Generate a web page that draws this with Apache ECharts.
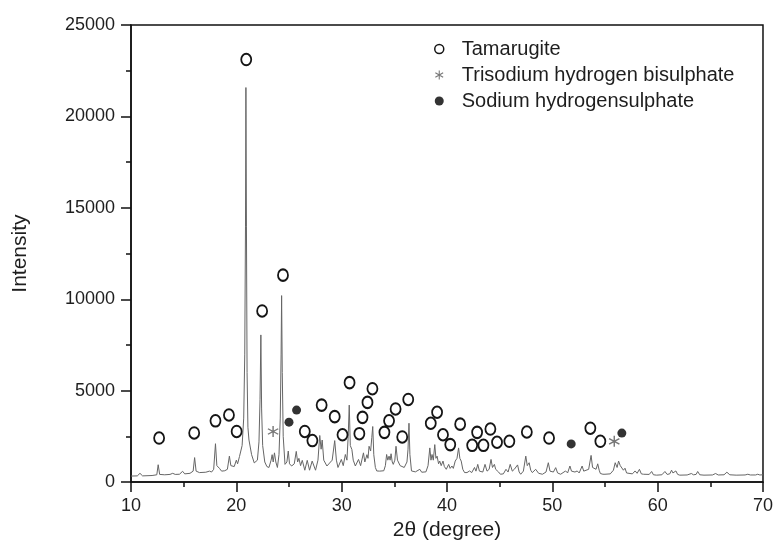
<!DOCTYPE html>
<html>
<head>
<meta charset="utf-8">
<script src="https://cdn.jsdelivr.net/npm/echarts@6/dist/echarts.min.js"></script>
<style>
  html, body { margin: 0; padding: 0; background: #fff; }
  #chart { width: 776px; height: 546px; }
</style>
</head>
<body>
<div id="chart"></div>
<script>
// XRD pattern: 2θ (degree) vs intensity
const patternTheta = [
  10.0, 10.6, 10.85, 11.1, 12.0, 12.45, 12.58, 12.72, 13.2, 13.7, 13.96, 14.2, 14.6, 14.9, 15.1, 15.6, 15.9, 16.04, 16.18, 16.5,
  17.1, 17.45, 17.65, 17.85, 18.02, 18.15, 18.4, 18.6, 18.9, 19.15, 19.34, 19.48, 19.65, 19.8, 20.0, 20.12, 20.3, 20.55, 20.7, 20.8,
  20.87, 20.91, 20.96, 21.02, 21.1, 21.2, 21.3, 21.45, 21.7, 21.85, 22.0, 22.15, 22.25, 22.33, 22.4, 22.5, 22.7, 22.9, 23.1, 23.3,
  23.4, 23.5, 23.62, 23.75, 23.9, 24.05, 24.17, 24.25, 24.3, 24.36, 24.45, 24.62, 24.8, 24.93, 25.05, 25.25, 25.5, 25.69, 25.82, 25.94,
  26.1, 26.26, 26.5, 26.73, 26.95, 27.2, 27.52, 27.75, 27.92, 28.05, 28.15, 28.3, 28.6, 29.1, 29.34, 29.5, 29.65, 29.97, 30.15, 30.35,
  30.5, 30.62, 30.72, 30.82, 30.97, 31.1, 31.3, 31.6, 31.8, 32.07, 32.2, 32.3, 32.4, 32.5, 32.6, 32.75, 32.86, 32.95, 33.05, 33.2,
  33.33, 33.6, 34.0, 34.15, 34.27, 34.38, 34.5, 34.6, 34.69, 34.8, 34.9, 35.05, 35.16, 35.3, 35.44, 35.55, 35.69, 35.94, 36.2, 36.3,
  36.39, 36.48, 36.63, 37.0, 37.42, 37.6, 38.0, 38.2, 38.37, 38.48, 38.58, 38.7, 38.84, 38.95, 39.06, 39.2, 39.31, 39.45, 39.62, 39.75,
  39.93, 40.16, 40.3, 40.47, 40.6, 40.78, 40.95, 41.1, 41.22, 41.35, 41.5, 41.67, 41.9, 42.14, 42.35, 42.61, 42.75, 42.92, 43.08, 43.24,
  43.4, 43.61, 43.8, 44.0, 44.18, 44.32, 44.5, 44.62, 44.75, 44.9, 45.07, 45.35, 45.6, 45.8, 46.0, 46.2, 46.39, 46.55, 46.7, 46.85,
  47.0, 47.25, 47.48, 47.62, 47.8, 47.95, 48.1, 48.42, 48.7, 49.06, 49.4, 49.62, 49.78, 49.94, 50.1, 50.32, 50.5, 50.79, 51.26, 51.45,
  51.67, 51.82, 51.98, 52.15, 52.36, 52.55, 52.83, 52.98, 53.14, 53.45, 53.68, 53.82, 53.99, 54.15, 54.31, 54.45, 54.56, 54.8, 55.0, 55.5,
  55.8, 55.97, 56.15, 56.29, 56.45, 56.6, 56.75, 56.9, 57.05, 57.23, 57.6, 57.86, 58.05, 58.27, 58.45, 58.65, 59.2, 59.43, 59.6, 59.9,
  60.4, 60.69, 60.9, 61.15, 61.32, 61.45, 61.54, 61.63, 61.73, 61.9, 62.1, 62.8, 63.2, 63.4, 63.65, 63.8, 64.0, 64.4, 65.2, 65.5,
  65.75, 66.3, 66.57, 66.85, 67.45, 68.3, 68.56, 68.8, 69.3, 69.5, 69.7, 70.0
];
const patternIntensity = [
  330, 340, 480, 340, 360, 400, 950, 420, 400, 420, 480, 420, 430, 590, 450, 480, 600, 1340, 600, 520,
  540, 600, 550, 700, 2100, 900, 750, 600, 620, 700, 1420, 900, 1000, 850, 1200, 1000, 1400, 2000, 3500, 7000,
  14000, 21580, 14000, 6000, 3000, 2300, 2300, 1500, 1050, 970, 1200, 2200, 4500, 8050, 4000, 2000, 1100, 850, 800, 1200,
  1500, 1100, 1600, 1100, 800, 1500, 3500, 7000, 10200, 6000, 2500, 970, 1100, 1700, 1000, 880, 1000, 1680, 1100, 1300,
  900, 1190, 650, 1190, 650, 1150, 650, 1200, 2550, 1800, 2300, 1200, 880, 1200, 2270, 1200, 800, 1240, 900, 1510,
  1200, 2500, 4210, 2000, 1780, 1200, 880, 1240, 900, 1600, 1100, 1070, 1500, 1300, 1960, 1700, 2430, 3040, 1500, 800,
  610, 600, 620, 900, 1510, 1200, 1420, 1200, 1550, 1100, 970, 1200, 1960, 1200, 1150, 900, 970, 800, 1100, 1800,
  3220, 1500, 610, 560, 700, 540, 560, 900, 1870, 1200, 1510, 1200, 2050, 1300, 1420, 1000, 1150, 900, 1150, 850,
  700, 970, 750, 880, 750, 1150, 1300, 1870, 1300, 1150, 700, 520, 520, 610, 520, 800, 600, 970, 600, 610,
  550, 970, 600, 700, 1240, 800, 970, 700, 790, 550, 430, 450, 700, 550, 970, 600, 700, 600, 940, 550,
  430, 600, 1420, 900, 1060, 650, 520, 700, 480, 430, 550, 1060, 600, 700, 550, 790, 500, 430, 610, 500,
  880, 600, 700, 550, 610, 500, 880, 600, 610, 700, 1460, 800, 790, 700, 1000, 650, 470, 430, 430, 450,
  650, 1060, 800, 1150, 900, 1000, 650, 760, 500, 430, 450, 610, 480, 700, 450, 430, 420, 580, 400, 380,
  400, 580, 420, 450, 650, 500, 580, 480, 610, 420, 380, 390, 470, 400, 420, 580, 400, 380, 390, 470,
  390, 400, 540, 400, 380, 390, 430, 390, 390, 430, 390, 400
];

// Phase markers placed above the assigned reflections
const tamarugite = [
  [12.67, 2410], [16.0, 2690], [18.02, 3350], [19.3, 3670], [20.03, 2770], [20.94, 23110],
  [22.45, 9360], [24.43, 11320], [26.5, 2770], [27.22, 2270], [28.1, 4210], [29.34, 3580],
  [30.08, 2590], [30.75, 5440], [31.68, 2650], [31.98, 3540], [32.45, 4360], [32.92, 5110],
  [34.06, 2720], [34.5, 3350], [35.12, 4000], [35.75, 2470], [36.32, 4520], [38.46, 3220],
  [39.06, 3820], [39.62, 2590], [40.31, 2050], [41.25, 3170], [42.39, 2010], [42.86, 2720],
  [43.46, 2010], [44.12, 2900], [44.75, 2180], [45.92, 2230], [47.58, 2740], [49.69, 2410],
  [53.61, 2950], [54.56, 2230]
];
const trisodium = [[23.49, 2770], [55.88, 2230]];
const sodiumHS = [[25.0, 3280], [25.72, 3940], [51.79, 2090], [56.6, 2680]];

const xTicks = { min: 10, max: 70, interval: 10 };
const yTicks = { min: 0, max: 25000, interval: 5000 };

// six-spoke asterisk drawn as three filled bars
const asteriskPath = 'path://M8.8,0 L11.2,0 L11.2,20 L8.8,20 Z ' +
  'M0.74,6.04 L1.94,3.96 L19.26,13.96 L18.06,16.04 Z ' +
  'M1.94,16.04 L0.74,13.96 L18.06,3.96 L19.26,6.04 Z';

const FONT = '"Liberation Sans", Arial, Helvetica, sans-serif';
const INK = '#1e1e1e';

const chart = echarts.init(document.getElementById('chart'), null, { renderer: 'canvas' });

const pattern = patternTheta.map((t, i) => [t, patternIntensity[i]]);

chart.setOption({
  animation: false,
  backgroundColor: '#ffffff',
  textStyle: { fontFamily: FONT, color: INK },
  grid: {
    left: 131, right: 11, top: 25, bottom: 58,
    show: true, borderColor: '#111', borderWidth: 1.5, backgroundColor: 'transparent'
  },
  legend: {
    orient: 'vertical',
    left: 429, top: 34,
    itemWidth: 9, itemHeight: 9,
    itemGap: 6,
    textStyle: { fontFamily: FONT, fontSize: 20, color: INK, padding: [0, 0, 0, 13] },
    data: [
      { name: 'Tamarugite', itemStyle: { color: '#ffffff', borderColor: '#151515', borderWidth: 1.5 } },
      { name: 'Trisodium hydrogen bisulphate', itemStyle: { color: '#555555' } },
      { name: 'Sodium hydrogensulphate', itemStyle: { color: '#000000' } }
    ]
  },
  xAxis: {
    type: 'value',
    min: xTicks.min, max: xTicks.max, interval: xTicks.interval,
    name: '2θ (degree)',
    nameLocation: 'middle',
    nameGap: 33,
    nameTextStyle: { fontFamily: FONT, fontSize: 21, color: INK },
    axisLine: { show: true, onZero: false, lineStyle: { color: '#111', width: 1.5 } },
    axisTick: { show: true, inside: false, length: 10, lineStyle: { color: '#111', width: 1.5 } },
    minorTick: { show: true, splitNumber: 2, length: 5, lineStyle: { color: '#111', width: 1.5 } },
    axisLabel: { fontFamily: FONT, fontSize: 18, color: INK, margin: 15 },
    splitLine: { show: false }
  },
  yAxis: {
    type: 'value',
    min: yTicks.min, max: yTicks.max, interval: yTicks.interval,
    name: 'Intensity',
    nameLocation: 'middle',
    nameGap: 100,
    nameTextStyle: { fontFamily: FONT, fontSize: 21, color: INK },
    axisLine: { show: true, onZero: false, lineStyle: { color: '#111', width: 1.5 } },
    axisTick: { show: true, inside: false, length: 10, lineStyle: { color: '#111', width: 1.5 } },
    minorTick: { show: true, splitNumber: 2, length: 5, lineStyle: { color: '#111', width: 1.5 } },
    axisLabel: { fontFamily: FONT, fontSize: 18, color: INK, margin: 16, formatter: (v) => String(v) },
    splitLine: { show: false }
  },
  series: [
    {
      name: 'pattern',
      type: 'line',
      data: pattern,
      showSymbol: false,
      symbol: 'none',
      lineStyle: { color: '#666666', width: 1 },
      z: 2
    },
    {
      name: 'Tamarugite',
      type: 'scatter',
      data: tamarugite,
      symbol: 'circle',
      symbolSize: [10, 11.5],
      itemStyle: { color: '#ffffff', borderColor: '#151515', borderWidth: 1.9, opacity: 1 },
      z: 3
    },
    {
      name: 'Trisodium hydrogen bisulphate',
      type: 'scatter',
      data: trisodium,
      symbol: asteriskPath,
      symbolSize: [11, 11],
      itemStyle: { color: '#555555' },
      z: 3
    },
    {
      name: 'Sodium hydrogensulphate',
      type: 'scatter',
      data: sodiumHS,
      symbol: 'circle',
      symbolSize: 9,
      itemStyle: { color: '#000000' },
      z: 3
    }
  ]
});
</script>
</body>
</html>
